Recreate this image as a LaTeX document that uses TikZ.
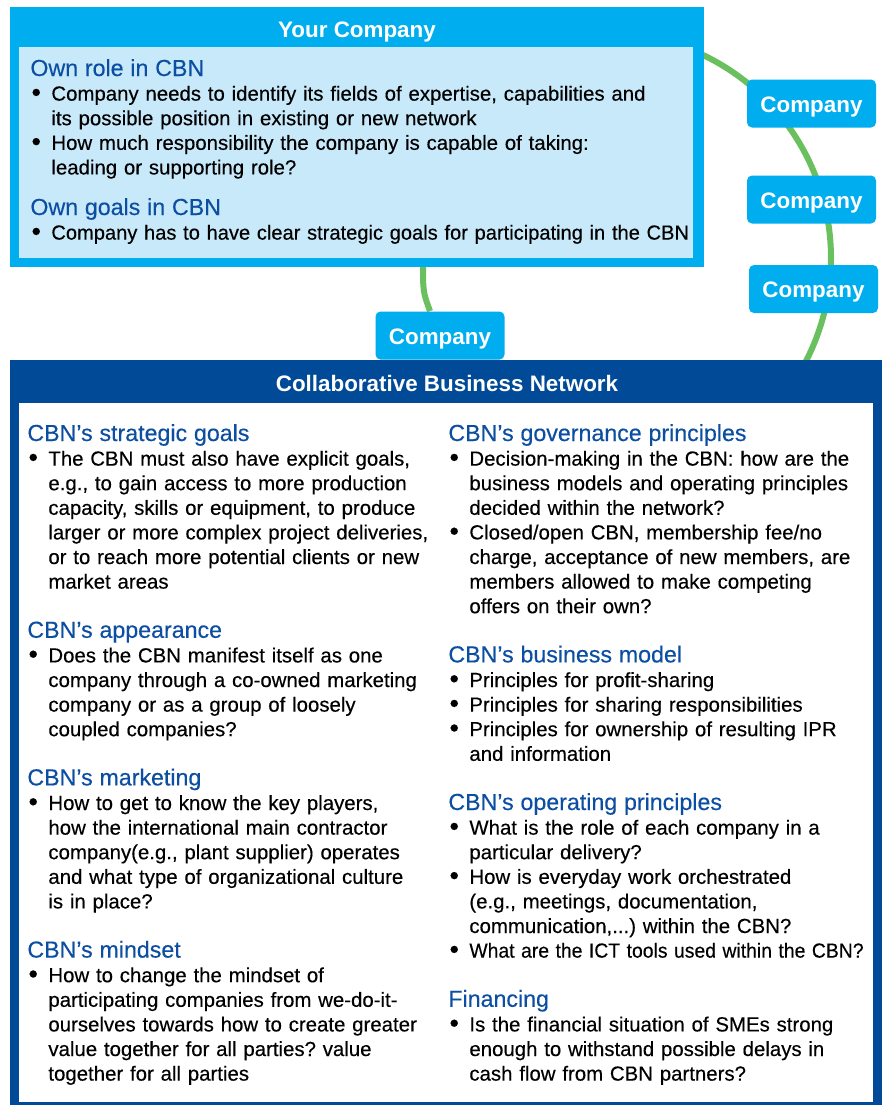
\documentclass[tikz,border=0pt]{standalone}
\usepackage{fontspec}
\setmainfont{Liberation Sans}
\newfontfamily\medfont[FakeBold=0.3]{Liberation Sans}
\usetikzlibrary{positioning}
\definecolor{cyanbox}{HTML}{00AEEF}
\definecolor{lightbox}{HTML}{C8E9F9}
\definecolor{navy}{HTML}{004A98}
\definecolor{headblue}{HTML}{0B4EA2}
\definecolor{ringgreen}{HTML}{6ABF5E}
\pgfdeclarelayer{background}
\pgfsetlayers{background,main}
\setlength{\parskip}{0pt}
\frenchspacing
\newcommand{\hd}[1]{{\fontsize{11.6}{12.3}\selectfont\color{headblue}#1\par}}
\newcommand{\itm}[1]{{\leftskip=10.5pt\noindent\llap{\makebox[10.5pt][l]{\hspace{0.6pt}\raisebox{-0.3pt}{\scalebox{1.3}{\textbullet}}}}#1\par}}
\newcommand{\gap}{\vspace{12.3pt}}
\newcommand{\squeeze}[2]{\scalebox{#1}[1]{#2}}
\tikzset{
  company/.style={fill=cyanbox, rounded corners=2.5pt, minimum width=64.5pt, minimum height=24pt, inner sep=0pt,
    text=white, font=\bfseries\fontsize{11.2}{12}\selectfont, text height=8.8pt, text depth=0pt},
  boxtitle/.style={anchor=base, inner sep=0pt, text=white, font=\bfseries\fontsize{11.2}{12}\selectfont},
  coltext/.style={anchor=base west, inner sep=0pt, align=left, font=\medfont\fontsize{10.2}{12.3}\selectfont},
  ring/.style={draw=ringgreen, line width=3pt}
}
\begin{document}
\begin{tikzpicture}[x=0.5pt,y=-0.5pt]
\useasboundingbox (0,0) rectangle (882,1105);

\node[fill=cyanbox, minimum width=347pt, minimum height=130pt, inner sep=0pt, anchor=north west] (yourbox) at (10,7) {};
\fill[lightbox] (19,47) rectangle (693,258);
\node[boxtitle] (yourtitle) at (357,37) {Your Company};
\node[coltext, text width=350pt] (owntext) at (30,76) {%
\hd{Own role in CBN}
\itm{Company needs to identify its fields of expertise, capabilities and\\ its possible position in existing or new network}
\itm{How much responsibility the company is capable of taking:\\ leading or supporting role?}
\vspace{8pt}
\hd{Own goals in CBN}
\itm{\squeeze{0.985}{Company has to have clear strategic goals for participating in the CBN}}
};

\node[fill=navy, minimum width=436pt, minimum height=372.5pt, inner sep=0pt, anchor=north west] (cbnbox) at (10,360) {};
\fill[white] (19,403) rectangle (873,1102);
\node[boxtitle] (cbntitle) at (447,391) {Collaborative Business Network};

\node[coltext, text width=212pt] (leftcol) at (27,441) {%
\hd{CBN’s strategic goals}
\itm{The CBN must also have explicit goals,\\ e.g., to gain access to more production\\ capacity, skills or equipment, to produce\\ larger or more complex project deliveries,\\ or to reach more potential clients or new\\ market areas}
\gap
\hd{CBN’s appearance}
\itm{Does the CBN manifest itself as one\\ company through a co-owned marketing\\ company or as a group of loosely\\ coupled companies?}
\gap
\hd{CBN’s marketing}
\itm{How to get to know the key players,\\ how the international main contractor\\ company(e.g., plant supplier) operates\\ and what type of organizational culture\\ is in place?}
\gap
\hd{CBN’s mindset}
\itm{How to change the mindset of\\ participating companies from we-do-it-\\ ourselves towards how to create greater\\ value together for all parties? value\\ together for all parties}
};

\node[coltext, text width=240pt] (rightcol) at (448,441) {%
\hd{CBN’s governance principles}
\itm{Decision-making in the CBN: how are the\\ business models and operating principles\\ decided within the network?}
\itm{Closed/open CBN, membership fee/no\\ charge, acceptance of new members, are\\ members allowed to make competing\\ offers on their own?}
\gap
\hd{CBN’s business model}
\itm{Principles for profit-sharing}
\itm{Principles for sharing responsibilities}
\itm{Principles for ownership of resulting IPR\\ and information}
\gap
\hd{CBN’s operating principles}
\itm{What is the role of each company in a\\ particular delivery?}
\itm{How is everyday work orchestrated\\ (e.g., meetings, documentation,\\ communication,...) within the CBN?}
\itm{\squeeze{0.95}{What are the ICT tools used within the CBN?}}
\gap
\hd{Financing}
\itm{Is the financial situation of SMEs strong\\ enough to withstand possible delays in\\ cash flow from CBN partners?}
};

\node[company] (c1) at (811.5,103.5) {Company};
\node[company] (c2) at (811.5,199.5) {Company};
\node[company] (c3) at (813.5,289) {Company};
\node[company] (c4) at (440,335.5) {Company};

\coordinate (hub) at (606,258);
\coordinate (yourfoot) at (423,262);
\begin{pgfonlayer}{background}
\draw[ring] (hub) ++(-68:225) arc[start angle=-68, end angle=30, radius=225];
\draw[ring] (yourfoot) .. controls (423,292) .. ([xshift=-5pt]c4.north);
\end{pgfonlayer}
\end{tikzpicture}
\end{document}
